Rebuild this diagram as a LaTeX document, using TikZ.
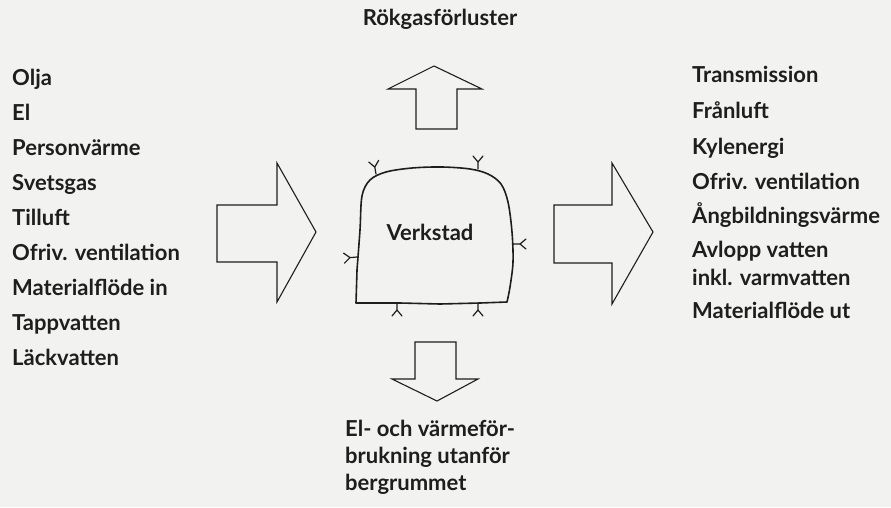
\documentclass[tikz,border=0pt]{standalone}
\usepackage{fontspec}
\setmainfont{Lato}
\usetikzlibrary{positioning}
\definecolor{papercolor}{RGB}{242,242,240}
\definecolor{inkcolor}{RGB}{30,30,30}

\begin{document}
\begin{tikzpicture}[
    x=1pt, y=-1pt,
    label/.style={anchor=mid west, inner sep=0pt, font=\fontsize{22}{26}\selectfont\bfseries, text=inkcolor},
    title/.style={anchor=mid, inner sep=0pt, font=\fontsize{22}{26}\selectfont\bfseries, text=inkcolor},
    flow/.style={draw=inkcolor, line width=1.1pt, line join=miter},
    wall/.style={draw=inkcolor, line width=1.6pt, line join=round},
    anchorbolt/.pic={\draw[inkcolor, line width=1.2pt, line cap=round] (0,0) -- (0,-7) -- ++(-5,-6) (0,-7) -- ++(5,-6);}
]

    % paper
    \fill[papercolor] (0,0) rectangle (891,507);
    \useasboundingbox (0,0) rectangle (891,507);

    % Incoming
    \node[label] (olja) at (12,83) {Olja};
    \node[label] (el) at (12,118) {El};
    \node[label] (person) at (12,153) {Personvärme};
    \node[label] (svets) at (12,188) {Svetsgas};
    \node[label] (tilluft) at (12,223) {Tilluft};
    \node[label] (ofrivin) at (12,258) {Ofriv. ventilation};
    \node[label] (matin) at (12,293) {Materialflöde in};
    \node[label] (tapp) at (12,328) {Tappvatten};
    \node[label] (lack) at (12,363) {Läckvatten};

    % Outgoing
    \node[label] (trans) at (692,80) {Transmission};
    \node[label] (franluft) at (692,116) {Frånluft};
    \node[label] (kyl) at (692,152) {Kylenergi};
    \node[label] (ofrivut) at (692,187) {Ofriv. ventilation};
    \node[label] (angbild) at (692,221) {Ångbildningsvärme};
    \node[label] (avlopp) at (692,255) {Avlopp vatten};
    \node[label] (inkl) at (692,283) {inkl. varmvatten};
    \node[label] (matut) at (692,316) {Materialflöde ut};

    % Top and bottom
    \node[title] (rokgas) at (440,23) {Rökgasförluster};
    \node[label] (elvarme1) at (345,434) {El- och värmeför-};
    \node[label] (elvarme2) at (345,461) {brukning utanför};
    \node[label] (elvarme3) at (345,488) {bergrummet};

    % Verkstad (rock cavern)
    \draw[wall] (356,303) -- plot[smooth, tension=0.55] coordinates {
        (357,270) (360,230) (362,196) (370,180) (386,172) (412,168)
        (442,167) (470,169) (488,174) (501,184) (508,202) (512,232)
        (513,262) (510,287) (507,302)} -- (480,303) -- (440,304) -- (400,303) -- cycle;
    \node[title] (verkstad) at (430,238) {Verkstad};

    % bolts
    \pic[rotate=10] at (376,174) {anchorbolt};
    \pic at (478,169) {anchorbolt};
    \pic[rotate=-90] at (513,244) {anchorbolt};
    \pic[rotate=95] at (357,257) {anchorbolt};
    \pic[rotate=180] at (397,303) {anchorbolt};
    \pic[rotate=180] at (478,303) {anchorbolt};

    % Flow arrows
    \draw[flow] (217,205) -- (277,205) -- (277,163) -- (316,232) -- (277,302) -- (277,262) -- (217,262) -- cycle;
    \draw[flow] (554,205) -- (612,205) -- (612,163) -- (653,232) -- (612,304) -- (612,263) -- (554,263) -- cycle;
    \draw[flow] (416,129) -- (416,89) -- (388,89) -- (434,66) -- (482,89) -- (457,89) -- (457,129) -- cycle;
    \draw[flow] (415,342) -- (415,379) -- (392,379) -- (437,401) -- (478,379) -- (456,379) -- (456,342) -- cycle;

\end{tikzpicture}
\end{document}
